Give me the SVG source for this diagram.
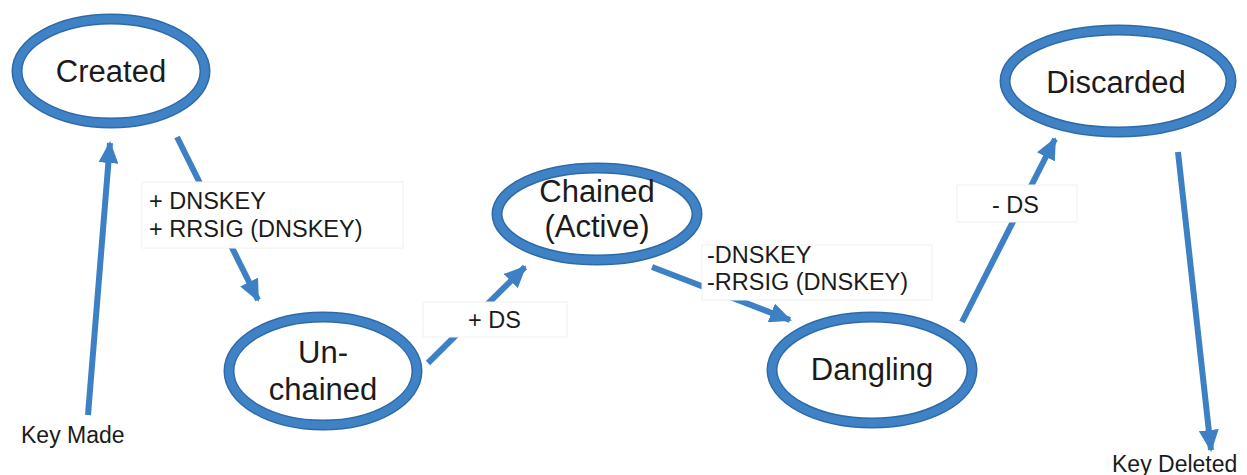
<svg xmlns="http://www.w3.org/2000/svg" width="1247" height="475" viewBox="0 0 1247 475">
  <style>
    .ring-outer { fill: #ffffff; stroke: #2f6aa6; stroke-width: 11; }
    .ring-inner { fill: none; stroke: #3f83c6; stroke-width: 8; }
    .node-text { font-family: "Liberation Sans", Arial, sans-serif; font-size: 31px; fill: #1b1b1b; text-anchor: middle; }
    .edge { stroke: #3d81c4; stroke-width: 6; fill: none; marker-end: url(#arrow); }
    .label-box { fill: #ffffff; stroke: #f0f0f0; stroke-width: 1; }
    .label-text { font-family: "Liberation Sans", Arial, sans-serif; font-size: 23.5px; fill: #1b1b1b; }
  </style>
  <defs>
    <marker id="arrow" markerUnits="userSpaceOnUse" markerWidth="22" markerHeight="20" refX="20" refY="10" orient="auto" viewBox="0 0 22 20">
      <path d="M0,0 L22,10 L0,20 z" fill="#3d81c4"/>
    </marker>
  </defs>
  <rect width="1247" height="475" fill="#ffffff"/>

  <g id="connectors">
    <line class="edge" x1="88" y1="415" x2="110" y2="143"/>
    <line class="edge" x1="177" y1="137" x2="258" y2="300"/>
    <line class="edge" x1="428" y1="363" x2="525" y2="267"/>
    <line class="edge" x1="652" y1="267" x2="790" y2="320"/>
    <line class="edge" x1="962" y1="322" x2="1055" y2="139"/>
    <line class="edge" x1="1178" y1="152" x2="1211" y2="450"/>
  </g>

  <g id="edge-labels">
    <g id="label-add-dnskey">
      <rect class="label-box" x="142" y="182" width="261" height="66"/>
      <text class="label-text" x="149" y="209">+ DNSKEY</text>
      <text class="label-text" x="149" y="237">+ RRSIG (DNSKEY)</text>
    </g>
    <g id="label-add-ds">
      <rect class="label-box" x="423" y="302" width="144" height="35"/>
      <text class="label-text" x="468" y="328">+ DS</text>
    </g>
    <g id="label-remove-dnskey">
      <rect class="label-box" x="702" y="245" width="230" height="55"/>
      <text class="label-text" x="707" y="263">-DNSKEY</text>
      <text class="label-text" x="707" y="290">-RRSIG (DNSKEY)</text>
    </g>
    <g id="label-remove-ds">
      <rect class="label-box" x="957" y="185" width="120" height="37"/>
      <text class="label-text" x="992" y="213">- DS</text>
    </g>
    <text id="label-key-made" class="label-text" x="21" y="443" style="font-size:23px">Key Made</text>
    <text id="label-key-deleted" class="label-text" x="1112" y="472" style="font-size:23px">Key Deleted</text>
  </g>

  <g id="node-created">
    <ellipse class="ring-outer" cx="111" cy="71" rx="94" ry="52"/>
    <ellipse class="ring-inner" cx="111" cy="71" rx="94" ry="52"/>
    <text class="node-text" x="111" y="82">Created</text>
  </g>
  <g id="node-unchained">
    <ellipse class="ring-outer" cx="323" cy="371" rx="94" ry="54"/>
    <ellipse class="ring-inner" cx="323" cy="371" rx="94" ry="54"/>
    <text class="node-text" x="323" y="363">Un-</text>
    <text class="node-text" x="323" y="400">chained</text>
  </g>
  <g id="node-chained">
    <ellipse class="ring-outer" cx="597" cy="214" rx="100" ry="46"/>
    <ellipse class="ring-inner" cx="597" cy="214" rx="100" ry="46"/>
    <text class="node-text" x="597" y="202">Chained</text>
    <text class="node-text" x="597" y="237">(Active)</text>
  </g>
  <g id="node-dangling">
    <ellipse class="ring-outer" cx="872" cy="370" rx="100" ry="53"/>
    <ellipse class="ring-inner" cx="872" cy="370" rx="100" ry="53"/>
    <text class="node-text" x="872" y="380">Dangling</text>
  </g>
  <g id="node-discarded">
    <ellipse class="ring-outer" cx="1118" cy="81" rx="113" ry="51"/>
    <ellipse class="ring-inner" cx="1118" cy="81" rx="113" ry="51"/>
    <text class="node-text" x="1116" y="93">Discarded</text>
  </g>
</svg>
